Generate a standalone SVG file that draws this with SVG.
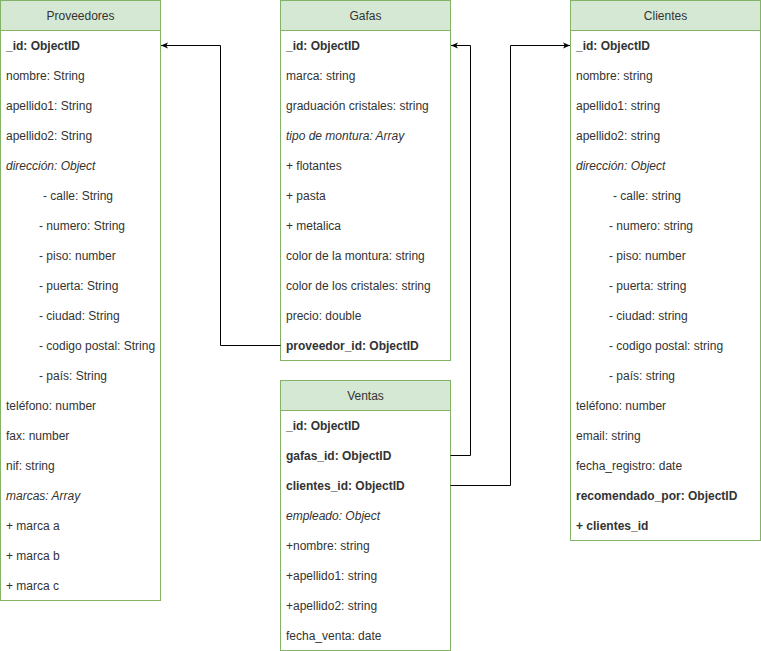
<svg xmlns="http://www.w3.org/2000/svg" width="761" height="651" viewBox="0 0 761 651">
<defs>
<style>
.box{fill:#ffffff;stroke:#82b366;stroke-width:1}
.hdr{fill:#d5e8d4;stroke:#82b366;stroke-width:1}
text{font-family:"Liberation Sans",Arial,sans-serif;font-size:12px;fill:#333333}
.t{text-anchor:middle}
.b{font-weight:bold}
.i{font-style:italic}
.c{fill:none;stroke:#000000;stroke-width:1}
</style>
<marker id="arr" viewBox="0 0 10 10" refX="9" refY="5" markerWidth="8" markerHeight="8" orient="auto" markerUnits="userSpaceOnUse">
<path d="M0,1 L9,5 L0,9 L2.5,5 Z" fill="#000"/>
</marker>
</defs>
<rect width="761" height="651" fill="#ffffff"/>

<g id="proveedores">
<rect class="box" x="0.5" y="0.5" width="160" height="600"/>
<rect class="hdr" x="0.5" y="0.5" width="160" height="30"/>
<text class="t" x="80.5" y="20">Proveedores</text>
<text class="b" x="6" y="50">_id: ObjectID</text>
<text x="6" y="80">nombre: String</text>
<text x="6" y="110">apellido1: String</text>
<text x="6" y="140">apellido2: String</text>
<text class="i" x="6" y="170">dirección: Object</text>
<text x="43" y="200">- calle: String</text>
<text x="39" y="230">- numero: String</text>
<text x="39" y="260">- piso: number</text>
<text x="39" y="290">- puerta: String</text>
<text x="39" y="320">- ciudad: String</text>
<text x="39" y="350">- codigo postal: String</text>
<text x="39" y="380">- país: String</text>
<text x="6" y="410">teléfono: number</text>
<text x="6" y="440">fax: number</text>
<text x="6" y="470">nif: string</text>
<text class="i" x="6" y="500">marcas: Array</text>
<text x="6" y="530">+ marca a</text>
<text x="6" y="560">+ marca b</text>
<text x="6" y="590">+ marca c</text>
</g>

<g id="gafas">
<rect class="box" x="280.5" y="0.5" width="170" height="360"/>
<rect class="hdr" x="280.5" y="0.5" width="170" height="30"/>
<text class="t" x="365.5" y="20">Gafas</text>
<text class="b" x="286" y="50">_id: ObjectID</text>
<text x="286" y="80">marca: string</text>
<text x="286" y="110">graduación cristales: string</text>
<text class="i" x="286" y="140">tipo de montura: Array</text>
<text x="286" y="170">+ flotantes</text>
<text x="286" y="200">+ pasta</text>
<text x="286" y="230">+ metalica</text>
<text x="286" y="260">color de la montura: string</text>
<text x="286" y="290">color de los cristales: string</text>
<text x="286" y="320">precio: double</text>
<text class="b" x="286" y="350">proveedor_id: ObjectID</text>
</g>

<g id="clientes">
<rect class="box" x="570.5" y="0.5" width="190" height="540"/>
<rect class="hdr" x="570.5" y="0.5" width="190" height="30"/>
<text class="t" x="665.5" y="20">Clientes</text>
<text class="b" x="576" y="50">_id: ObjectID</text>
<text x="576" y="80">nombre: string</text>
<text x="576" y="110">apellido1: string</text>
<text x="576" y="140">apellido2: string</text>
<text class="i" x="576" y="170">dirección: Object</text>
<text x="613" y="200">- calle: string</text>
<text x="609" y="230">- numero: string</text>
<text x="609" y="260">- piso: number</text>
<text x="609" y="290">- puerta: string</text>
<text x="609" y="320">- ciudad: string</text>
<text x="609" y="350">- codigo postal: string</text>
<text x="609" y="380">- país: string</text>
<text x="576" y="410">teléfono: number</text>
<text x="576" y="440">email: string</text>
<text x="576" y="470">fecha_registro: date</text>
<text class="b" x="576" y="500">recomendado_por: ObjectID</text>
<text class="b" x="576" y="530">+ clientes_id</text>
</g>

<g id="ventas">
<rect class="box" x="280.5" y="380.5" width="170" height="270"/>
<rect class="hdr" x="280.5" y="380.5" width="170" height="30"/>
<text class="t" x="365.5" y="400">Ventas</text>
<text class="b" x="286" y="430">_id: ObjectID</text>
<text class="b" x="286" y="460">gafas_id: ObjectID</text>
<text class="b" x="286" y="490">clientes_id: ObjectID</text>
<text class="i" x="286" y="520">empleado: Object</text>
<text x="286" y="550">+nombre: string</text>
<text x="286" y="580">+apellido1: string</text>
<text x="286" y="610">+apellido2: string</text>
<text x="286" y="640">fecha_venta: date</text>
</g>

<g id="connectors">
<path class="c" d="M280.5,345.5 H220.5 V45.5 H161" marker-end="url(#arr)"/>
<path class="c" d="M450.5,455.5 H470.5 V45.5 H451" marker-end="url(#arr)"/>
<path class="c" d="M450.5,485.5 H510.5 V45.5 H570" marker-end="url(#arr)"/>
</g>
</svg>
